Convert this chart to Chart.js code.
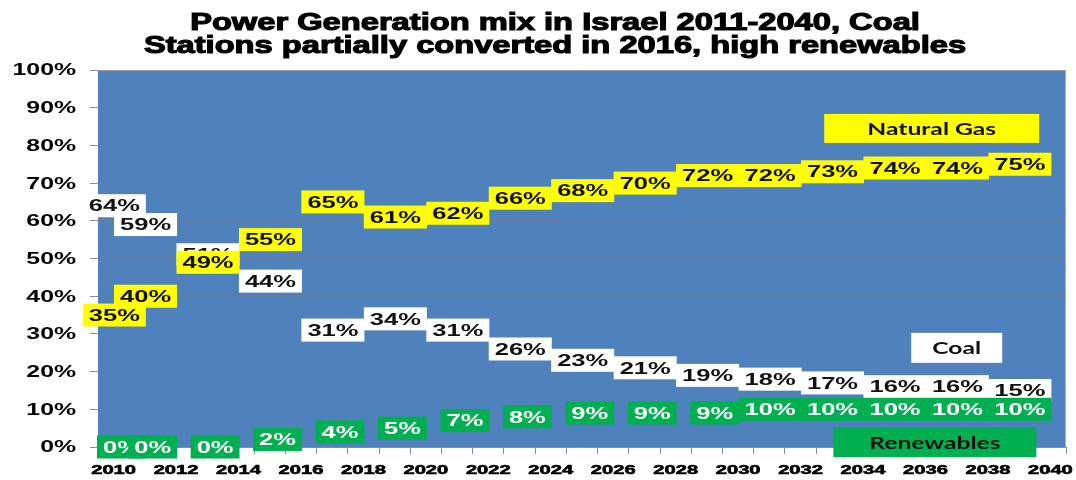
<!DOCTYPE html>
<html>
<head>
<meta charset="utf-8">
<title>Power Generation mix in Israel 2011-2040</title>
<script src="https://cdn.jsdelivr.net/npm/chart.js@4.4.1/dist/chart.umd.min.js"></script>
<style>
  html, body { margin: 0; padding: 0; background: #ffffff; }
  #wrap { width: 1076px; height: 480px; position: relative; }
</style>
</head>
<body>
<div id="wrap"><canvas id="chart" width="1076" height="480"></canvas></div>
<script>
// Category axis: one slot per year
const categories = ['2010','2011','2012','2013','2014','2015','2016','2017','2018','2019',
  '2020','2021','2022','2023','2024','2025','2026','2027','2028','2029',
  '2030','2031','2032','2033','2034','2035','2036','2037','2038','2039','2040'];

// Years that carry a value
const pointYears = ['2011','2012','2014','2016','2018','2020','2022','2024',
  '2026','2028','2030','2032','2034','2036','2038','2040'];

// Share of generation, percent
const coal       = [64, 59, 51, 44, 31, 34, 31, 26, 23, 21, 19, 18, 17, 16, 16, 15];
const naturalGas = [35, 40, 49, 55, 65, 61, 62, 66, 68, 70, 72, 72, 73, 74, 74, 75];
const renewables = [ 0,  0,  0,  2,  4,  5,  7,  8,  9,  9,  9, 10, 10, 10, 10, 10];

// Year labels printed under the axis
const xTickLabels = ['2010','2012','2014','2016','2018','2020','2022','2024',
  '2026','2028','2030','2032','2034','2036','2038','2040'];

const titleLines = ['Power Generation mix in Israel 2011-2040, Coal',
                    'Stations partially converted in 2016, high renewables'];

// Series name tags placed in data space (category index, percent)
const seriesTags = [
  { text: 'Natural Gas', idx: 26.2, value: 84.5, w: 215, h: 29, fill: '#ffff00', color: '#111111' },
  { text: 'Coal',        idx: 27.0, value: 26.3, w: 91,  h: 30, fill: '#ffffff', color: '#111111' },
  { text: 'Renewables',  idx: 26.3, value: 1.3,  w: 203, h: 30, fill: '#00b050', color: '#111111' }
];

const SX = 1.5; // horizontal stretch of all lettering

function stretchText(ctx, text, x, y, sx, align) {
  ctx.save();
  ctx.translate(x, y);
  ctx.scale(sx, 1);
  ctx.textAlign = align;
  ctx.fillText(text, 0, 0);
  ctx.restore();
}

function toPoints(values) {
  return values.map((v, i) => ({ x: pointYears[i], y: v }));
}

const plotBackground = {
  id: 'plotBackground',
  beforeDraw(chart) {
    const { ctx, chartArea: a } = chart;
    ctx.save();
    ctx.fillStyle = '#4f81bd';
    ctx.fillRect(a.left, a.top, a.right - a.left, a.bottom - a.top);
    ctx.strokeStyle = '#9fb3cf';
    ctx.lineWidth = 1;
    ctx.beginPath();
    ctx.moveTo(a.left, a.top + 0.5);
    ctx.lineTo(a.right - 0.5, a.top + 0.5);
    ctx.lineTo(a.right - 0.5, a.bottom);
    ctx.stroke();
    ctx.restore();
  }
};

const axisText = {
  id: 'axisText',
  afterDraw(chart) {
    const { ctx, chartArea: a, scales } = chart;
    const xs = scales.x, ys = scales.y;
    ctx.save();
    ctx.fillStyle = '#000000';

    // Title
    ctx.font = 'bold 23px "Liberation Sans", Arial, sans-serif';
    ctx.textBaseline = 'alphabetic';
    ctx.strokeStyle = '#000000';
    ctx.lineWidth = 1.1;
    const cx = 555;
    [30, 53].forEach((baseY, i) => {
      ctx.save();
      ctx.translate(cx, baseY);
      ctx.scale(1.42, 1);
      ctx.textAlign = 'center';
      ctx.fillText(titleLines[i], 0, 0);
      ctx.strokeText(titleLines[i], 0, 0);
      ctx.restore();
    });

    // Y tick labels
    ctx.textBaseline = 'middle';
    ctx.font = 'bold 16px "Liberation Sans", Arial, sans-serif';
    ys.ticks.forEach(t => {
      const y = ys.getPixelForValue(t.value);
      stretchText(ctx, t.value + '%', a.left - 22, y + 1, 1.55, 'right');
    });

    // X tick labels (every second year)
    ctx.font = 'bold 13px "Liberation Sans", Arial, sans-serif';
    ctx.lineWidth = 0.6;
    xTickLabels.forEach(lbl => {
      const idx = categories.indexOf(lbl);
      const x = xs.getPixelForValue(idx);
      ctx.save();
      ctx.translate(x, a.bottom + 23);
      ctx.scale(1.55, 1);
      ctx.textAlign = 'center';
      ctx.fillText(lbl, 0, 0);
      ctx.strokeText(lbl, 0, 0);
      ctx.restore();
    });
    ctx.restore();
  }
};

const valueTags = {
  id: 'valueTags',
  afterDatasetsDraw(chart) {
    const { ctx } = chart;
    ctx.save();
    ctx.font = 'bold 17px "Liberation Sans", Arial, sans-serif';
    ctx.textBaseline = 'middle';
    chart.data.datasets.forEach((ds, di) => {
      const meta = chart.getDatasetMeta(di);
      meta.data.forEach((pt, i) => {
        const txt = ds.data[i].y + '%';
        const tw = ctx.measureText(txt).width * SX;
        const bw = tw + 12, bh = 23;
        const right = pt.x + 1;
        const left = right - bw;
        ctx.fillStyle = ds.tagFill;
        ctx.fillRect(left, pt.y - bh / 2, bw, bh);
        ctx.fillStyle = ds.tagText;
        stretchText(ctx, txt, left + bw / 2, pt.y + 1, SX, 'center');
      });
    });

    // Series name tags
    const xs = chart.scales.x, ys = chart.scales.y;
    ctx.font = 'bold 17px Lato, "Open Sans", sans-serif';
    seriesTags.forEach(t => {
      const cx = xs.getPixelForValue(t.idx);
      const cy = ys.getPixelForValue(t.value);
      ctx.fillStyle = t.fill;
      ctx.fillRect(cx - t.w / 2, cy - t.h / 2, t.w, t.h);
      ctx.fillStyle = t.color;
      stretchText(ctx, t.text, cx, cy + 1, 1.45, 'center');
    });
    ctx.restore();
  }
};

new Chart(document.getElementById('chart'), {
  type: 'line',
  data: {
    labels: categories,
    datasets: [
      { label: 'Coal', data: toPoints(coal), showLine: false, pointRadius: 0,
        borderColor: '#ffffff', tagFill: '#ffffff', tagText: '#111111' },
      { label: 'Renewables', data: toPoints(renewables), showLine: false, pointRadius: 0,
        borderColor: '#00b050', tagFill: '#00b050', tagText: '#ffffff' },
      { label: 'Natural Gas', data: toPoints(naturalGas), showLine: false, pointRadius: 0,
        borderColor: '#ffff00', tagFill: '#ffff00', tagText: '#111111' }
    ]
  },
  options: {
    responsive: false,
    animation: false,
    events: [],
    layout: { padding: { top: 70, right: 10, left: 0, bottom: 0 } },
    plugins: { legend: { display: false }, tooltip: { enabled: false }, title: { display: false } },
    scales: {
      x: {
        type: 'category',
        offset: true,
        grid: { offset: true, drawOnChartArea: false, drawTicks: true, tickLength: 7, color: '#8c8c8c' },
        border: { display: true, color: '#8c8c8c' },
        ticks: { color: 'rgba(0,0,0,0)', autoSkip: false, maxRotation: 0 },
        afterFit(scale) { scale.height = 33; }
      },
      y: {
        min: 0, max: 100,
        ticks: { stepSize: 10, color: 'rgba(0,0,0,0)', callback: v => v + '%' },
        grid: { color: 'rgba(150,115,105,0.35)', tickColor: '#8c8c8c', tickLength: 8, lineWidth: 1 },
        border: { display: false },
        afterFit(scale) { scale.width = 98; }
      }
    }
  },
  plugins: [plotBackground, axisText, valueTags]
});
</script>
</body>
</html>
